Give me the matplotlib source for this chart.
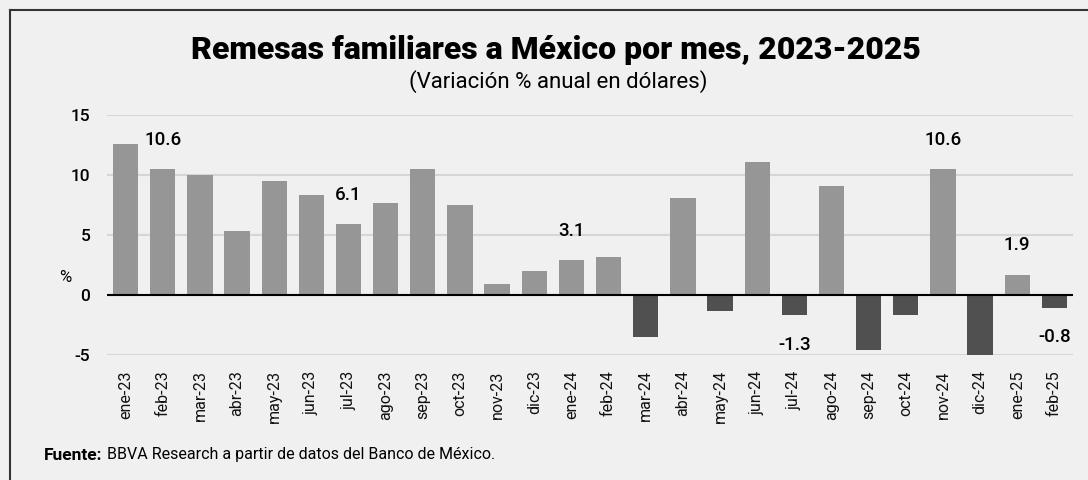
import numpy as np
import matplotlib
matplotlib.use("Agg")
import matplotlib.pyplot as plt
from matplotlib.lines import Line2D

# monthly data, annual % change in dollars
months = ["ene-23", "feb-23", "mar-23", "abr-23", "may-23", "jun-23", "jul-23",
          "ago-23", "sep-23", "oct-23", "nov-23", "dic-23", "ene-24", "feb-24",
          "mar-24", "abr-24", "may-24", "jun-24", "jul-24", "ago-24", "sep-24",
          "oct-24", "nov-24", "dic-24", "ene-25", "feb-25"]
values = [12.6, 10.5, 10.0, 5.3, 9.5, 8.3, 5.9, 7.7, 10.5, 7.5, 0.9, 2.0, 2.9,
          3.2, -3.5, 8.1, -1.3, 11.1, -1.7, 9.1, -4.6, -1.7, 10.5, -5.0, 1.7, -1.1]

# highlighted labels as published
label_months = ["feb-23", "jul-23", "ene-24", "jul-24", "nov-24", "ene-25", "feb-25"]
label_texts = ["10.6", "6.1", "3.1", "-1.3", "10.6", "1.9", "-0.8"]

BG = "#f0f0f0"
POS = "#969696"
NEG = "#505050"

plt.rcParams['font.family'] = ['Roboto', 'DejaVu Sans']
plt.rcParams['axes.unicode_minus'] = False

fig = plt.figure(figsize=(10.88, 4.8), dpi=100, facecolor=BG)
ax = fig.add_axes([107 / 1088, 1 - 355 / 480, (1073 - 107) / 1088, 240 / 480])
ax.set_facecolor(BG)

x = np.arange(len(months))
colors = [POS if v >= 0 else NEG for v in values]
ax.bar(x, values, width=0.68, color=colors, zorder=3)

ax.set_xlim(-0.5, len(months) - 0.5)
ax.set_ylim(-5, 15)
ax.set_yticks([-5, 0, 5, 10, 15])
ax.grid(axis='y', color="#d6d6d6", linewidth=1.5, zorder=0)
ax.axhline(0, color="black", linewidth=1.5, zorder=4)
for s in ax.spines.values():
    s.set_visible(False)

ax.tick_params(axis='y', length=0, pad=12, labelsize=12.5)
for t in ax.get_yticklabels():
    t.set_fontweight('medium')
ax.set_xticks(x)
ax.set_xticklabels(months, rotation=90, fontsize=11.5, color="#111111")
ax.tick_params(axis='x', length=0, pad=11)

for m, txt in zip(label_months, label_texts):
    i = months.index(m)
    v = values[i]
    off = 21 if v >= 0 else -21
    ax.annotate(txt, (i, v), xytext=(0, off), textcoords='offset points',
                ha='center', va='center', fontsize=13.5, fontweight='medium')

fig.text(65 / 1088, 1 - 277 / 480, "%", ha='center', va='center', fontsize=12)

fig.text(556 / 1088, 1 - 50 / 480, "Remesas familiares a México por mes, 2023-2025",
         ha='center', va='center', fontsize=23, fontweight='black')
fig.text(558 / 1088, 1 - 82 / 480, "(Variación % anual en dólares)",
         ha='center', va='center', fontsize=16)

fig.text(44 / 1088, 1 - 455 / 480, "Fuente:", ha='left', va='center',
         fontsize=12.5, fontweight='bold')
fig.text(107 / 1088, 1 - 455 / 480, "BBVA Research a partir de datos del Banco de México.",
         ha='left', va='center', fontsize=11.5)

# frame lines on left and top
fig.add_artist(Line2D([10 / 1088, 10 / 1088], [0, 1 - 10 / 480],
                      transform=fig.transFigure, color="#333333", linewidth=1.5))
fig.add_artist(Line2D([10 / 1088, 1], [1 - 10 / 480, 1 - 10 / 480],
                      transform=fig.transFigure, color="#333333", linewidth=1.5))

fig.savefig("out.png", dpi=100, facecolor=BG)
